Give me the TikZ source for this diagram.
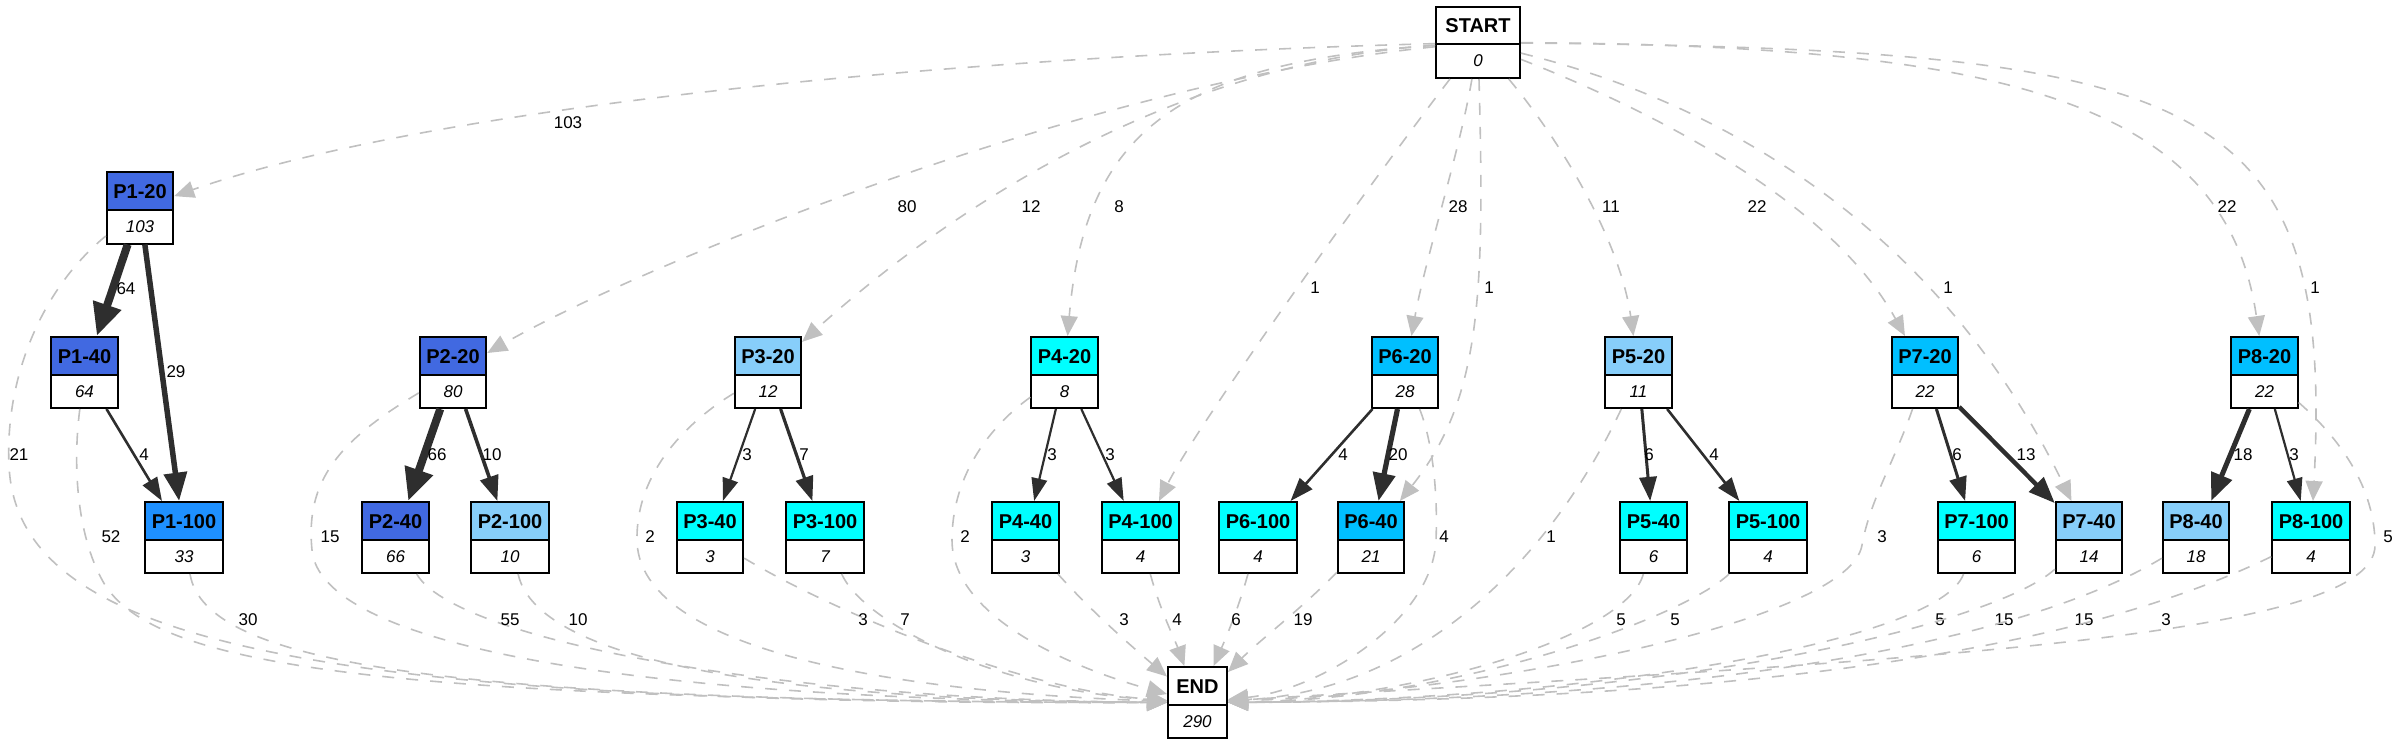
\documentclass[tikz,border=0pt]{standalone}
\usepackage{fontspec}
\setmainfont{Liberation Sans}
\usetikzlibrary{shapes.multipart,arrows.meta}

\definecolor{royalblue}{HTML}{4169E1}
\definecolor{dodgerblue}{HTML}{1E90FF}
\definecolor{lightskyblue}{HTML}{87CEFA}
\definecolor{deepskyblue}{HTML}{00BFFF}
\definecolor{aqua}{HTML}{00FFFF}
\definecolor{silver}{HTML}{C0C0C0}
\definecolor{darkline}{HTML}{2E2E2E}

\newcommand{\rhead}[1]{{\fontsize{20}{24}\selectfont\bfseries\rule[-10.5pt]{0pt}{35.5pt}#1}}
\newcommand{\rval}[1]{{\fontsize{17}{20}\selectfont\itshape\rule[-10pt]{0pt}{31.5pt}#1}}

\begin{document}
\begin{tikzpicture}[
                x=1pt, y=-1pt,
                rec/.style={draw, line width=2pt, rectangle split, rectangle split parts=2,
                            inner xsep=6.5pt, inner ysep=0pt},
                recroyal/.style={rec, rectangle split part fill={royalblue,white}},
                recdodger/.style={rec, rectangle split part fill={dodgerblue,white}},
                recsky/.style={rec, rectangle split part fill={lightskyblue,white}},
                recdeep/.style={rec, rectangle split part fill={deepskyblue,white}},
                reccyan/.style={rec, rectangle split part fill={aqua,white}},
                recwhite/.style={rec, rectangle split part fill={white,white}},
                flow/.style={draw=darkline, -{Triangle[length=19pt 1.7,width=11pt 2.1]}},
                dflow/.style={draw=silver, line width=1.6pt, dash pattern=on 12pt off 12pt,
                              -{Triangle[length=20pt,width=17pt]}},
                lbl/.style={font=\fontsize{17}{20}\selectfont, text=black, inner sep=0pt}]

\useasboundingbox (0,0) rectangle (2400,746);

                    % start / end
                    \node[recwhite,minimum width=84pt] (START) at (1478,42.5) {\rhead{START}\nodepart{two}\rval{0}};
                    \node[recwhite,minimum width=59pt] (END) at (1197.5,702.5) {\rhead{END}\nodepart{two}\rval{290}};

                    % 1
                    \node[recroyal] (P1-20) at (140,208) {\rhead{P1-20}\nodepart{two}\rval{103}};
                    \node[recroyal] (P1-40) at (84.5,372.5) {\rhead{P1-40}\nodepart{two}\rval{64}};
                    \node[recdodger] (P1-100) at (184,537.5) {\rhead{P1-100}\nodepart{two}\rval{33}};

                    % 2
                    \node[recroyal] (P2-20) at (453,372.5) {\rhead{P2-20}\nodepart{two}\rval{80}};
                    \node[recroyal] (P2-40) at (395.5,537.5) {\rhead{P2-40}\nodepart{two}\rval{66}};
                    \node[recsky] (P2-100) at (510,537.5) {\rhead{P2-100}\nodepart{two}\rval{10}};

                    % 3
                    \node[recsky] (P3-20) at (768,372.5) {\rhead{P3-20}\nodepart{two}\rval{12}};
                    \node[reccyan] (P3-40) at (710,537.5) {\rhead{P3-40}\nodepart{two}\rval{3}};
                    \node[reccyan] (P3-100) at (825,537.5) {\rhead{P3-100}\nodepart{two}\rval{7}};

                    % 4
                    \node[reccyan] (P4-20) at (1064.5,372.5) {\rhead{P4-20}\nodepart{two}\rval{8}};
                    \node[reccyan] (P4-40) at (1025.5,537.5) {\rhead{P4-40}\nodepart{two}\rval{3}};
                    \node[reccyan] (P4-100) at (1140.5,537.5) {\rhead{P4-100}\nodepart{two}\rval{4}};

                    % 6
                    \node[recdeep] (P6-20) at (1405,372.5) {\rhead{P6-20}\nodepart{two}\rval{28}};
                    \node[recdeep] (P6-40) at (1371,537.5) {\rhead{P6-40}\nodepart{two}\rval{21}};
                    \node[reccyan] (P6-100) at (1258,537.5) {\rhead{P6-100}\nodepart{two}\rval{4}};

                    % 5
                    \node[recsky] (P5-20) at (1638.5,372.5) {\rhead{P5-20}\nodepart{two}\rval{11}};
                    \node[reccyan] (P5-40) at (1653.5,537.5) {\rhead{P5-40}\nodepart{two}\rval{6}};
                    \node[reccyan] (P5-100) at (1768,537.5) {\rhead{P5-100}\nodepart{two}\rval{4}};

                    % 7
                    \node[recdeep] (P7-20) at (1925,372.5) {\rhead{P7-20}\nodepart{two}\rval{22}};
                    \node[recsky] (P7-40) at (2089,537.5) {\rhead{P7-40}\nodepart{two}\rval{14}};
                    \node[reccyan] (P7-100) at (1976.5,537.5) {\rhead{P7-100}\nodepart{two}\rval{6}};

                    % 8
                    \node[recdeep] (P8-20) at (2264.5,372.5) {\rhead{P8-20}\nodepart{two}\rval{22}};
                    \node[recsky] (P8-40) at (2196,537.5) {\rhead{P8-40}\nodepart{two}\rval{18}};
                    \node[reccyan] (P8-100) at (2311,537.5) {\rhead{P8-100}\nodepart{two}\rval{4}};


                    % from START
                    \draw[dflow] (START) .. controls (1000,55) and (450,100) .. (P1-20) node[lbl] at (568,123) {103};
                    \draw[dflow] (START) .. controls (1100,80) and (650,260) .. (P2-20) node[lbl] at (907,207) {80};
                    \draw[dflow] (START) .. controls (1180,62) and (960,200) .. (P3-20) node[lbl] at (1031,207) {12};
                    \draw[dflow] (START) .. controls (1180,62) and (1085,130) .. (P4-20) node[lbl] at (1119,207) {8};
                    \draw[dflow] (START) .. controls (1380,170) and (1200,420) .. (P4-100) node[lbl] at (1315,288) {1};
                    \draw[dflow] (START) .. controls (1460,150) and (1425,260) .. (P6-20) node[lbl] at (1458,207) {28};
                    \draw[dflow] (START) .. controls (1485,300) and (1480,400) .. (P6-40) node[lbl] at (1489,288) {1};
                    \draw[dflow] (START) .. controls (1560,140) and (1620,240) .. (P5-20) node[lbl] at (1611,207) {11};
                    \draw[dflow] (START) .. controls (1650,110) and (1830,200) .. (P7-20) node[lbl] at (1757,207) {22};
                    \draw[dflow] (START) .. controls (1750,110) and (1950,250) .. (P7-40) node[lbl] at (1948,288) {1};
                    \draw[dflow] (START) .. controls (2000,45) and (2225,100) .. (P8-20) node[lbl] at (2227,207) {22};
                    \draw[dflow] (START) .. controls (2200,50) and (2335,90) .. (P8-100) node[lbl] at (2315,288) {1};

                    % 1
                    \draw[flow,line width=8pt] (P1-20) -- (P1-40) node[lbl] at (126,289) {64};
                    \draw[flow,line width=5.5pt] (P1-20) -- (P1-100) node[lbl] at (176,372) {29};
                    \draw[flow,line width=2.6pt] (P1-40) -- (P1-100) node[lbl] at (144,455) {4};

                    % 2
                    \draw[flow,line width=8pt] (P2-20) -- (P2-40) node[lbl] at (437,455) {66};
                    \draw[flow,line width=3.6pt] (P2-20) -- (P2-100) node[lbl] at (492,455) {10};

                    % 3
                    \draw[flow,line width=2.2pt] (P3-20) -- (P3-40) node[lbl] at (747,455) {3};
                    \draw[flow,line width=3.2pt] (P3-20) -- (P3-100) node[lbl] at (804,455) {7};

                    % 4
                    \draw[flow,line width=2.2pt] (P4-20) -- (P4-40) node[lbl] at (1052,455) {3};
                    \draw[flow,line width=2.2pt] (P4-20) -- (P4-100) node[lbl] at (1110,455) {3};

                    % 6
                    \draw[flow,line width=2.6pt] (P6-20) -- (P6-100) node[lbl] at (1343,455) {4};
                    \draw[flow,line width=5.2pt] (P6-20) -- (P6-40) node[lbl] at (1398,455) {20};

                    % 5
                    \draw[flow,line width=3pt] (P5-20) -- (P5-40) node[lbl] at (1649,455) {6};
                    \draw[flow,line width=2.6pt] (P5-20) -- (P5-100) node[lbl] at (1714,455) {4};

                    % 7
                    \draw[flow,line width=3pt] (P7-20) -- (P7-100) node[lbl] at (1957,455) {6};
                    \draw[flow,line width=4.4pt] (P7-20) -- (P7-40) node[lbl] at (2026,455) {13};

                    % 8
                    \draw[flow,line width=5pt] (P8-20) -- (P8-40) node[lbl] at (2243,455) {18};
                    \draw[flow,line width=2.2pt] (P8-20) -- (P8-100) node[lbl] at (2294,455) {3};


                    % to END
                    \draw[dflow] (P1-20) .. controls (40,290) and (5,380) .. (9,465) .. controls (16,640) and (300,705) .. (END) node[lbl] at (19,455) {21};
                    \draw[dflow] (P1-40) .. controls (72,470) and (78,540) .. (105,585) .. controls (160,670) and (400,700) .. (END) node[lbl] at (111,537) {52};
                    \draw[dflow] (P1-100) .. controls (205,665) and (450,702) .. (END) node[lbl] at (248,620) {30};
                    \draw[dflow] (P2-20) .. controls (340,440) and (305,480) .. (312,550) .. controls (320,640) and (600,700) .. (END) node[lbl] at (330,537) {15};
                    \draw[dflow] (P2-40) .. controls (455,640) and (780,700) .. (END) node[lbl] at (510,620) {55};
                    \draw[dflow] (P2-100) .. controls (535,650) and (720,700) .. (END) node[lbl] at (578,620) {10};
                    \draw[dflow] (P3-20) .. controls (690,420) and (636,470) .. (637,540) .. controls (638,640) and (850,690) .. (END) node[lbl] at (650,537) {2};
                    \draw[dflow] (P3-40) .. controls (830,610) and (1020,690) .. (END) node[lbl] at (863,620) {3};
                    \draw[dflow] (P3-100) .. controls (865,625) and (1000,690) .. (END) node[lbl] at (905,620) {7};
                    \draw[dflow] (P4-20) .. controls (985,430) and (952,480) .. (952,540) .. controls (952,620) and (1080,670) .. (END) node[lbl] at (965,537) {2};
                    \draw[dflow] (P4-40) .. controls (1090,610) and (1130,645) .. (END) node[lbl] at (1124,620) {3};
                    \draw[dflow] (P4-100) .. controls (1160,610) and (1175,640) .. (END) node[lbl] at (1177,620) {4};
                    \draw[dflow] (P6-100) .. controls (1238,610) and (1225,640) .. (END) node[lbl] at (1236,620) {6};
                    \draw[dflow] (P6-40) .. controls (1300,610) and (1260,640) .. (END) node[lbl] at (1303,620) {19};
                    \draw[dflow] (P6-20) .. controls (1432,440) and (1438,490) .. (1436,540) .. controls (1433,620) and (1320,690) .. (END) node[lbl] at (1444,537) {4};
                    \draw[dflow] (P5-20) .. controls (1550,560) and (1420,690) .. (END) node[lbl] at (1551,537) {1};
                    \draw[dflow] (P5-40) .. controls (1625,640) and (1400,700) .. (END) node[lbl] at (1621,620) {5};
                    \draw[dflow] (P5-100) .. controls (1680,620) and (1450,700) .. (END) node[lbl] at (1675,620) {5};
                    \draw[dflow] (P7-20) .. controls (1895,460) and (1870,500) .. (1862,545) .. controls (1850,620) and (1500,690) .. (END) node[lbl] at (1882,537) {3};
                    \draw[dflow] (P7-100) .. controls (1940,640) and (1600,700) .. (END) node[lbl] at (1940,620) {5};
                    \draw[dflow] (P7-40) .. controls (2000,620) and (1700,700) .. (END) node[lbl] at (2004,620) {15};
                    \draw[dflow] (P8-40) .. controls (2060,620) and (1800,700) .. (END) node[lbl] at (2084,620) {15};
                    \draw[dflow] (P8-100) .. controls (2150,615) and (1900,700) .. (END) node[lbl] at (2166,620) {3};
                    \draw[dflow] (P8-20) .. controls (2330,430) and (2375,480) .. (2375,545) .. controls (2376,640) and (1900,660) .. (END) node[lbl] at (2388,537) {5};

\end{tikzpicture}
\end{document}
